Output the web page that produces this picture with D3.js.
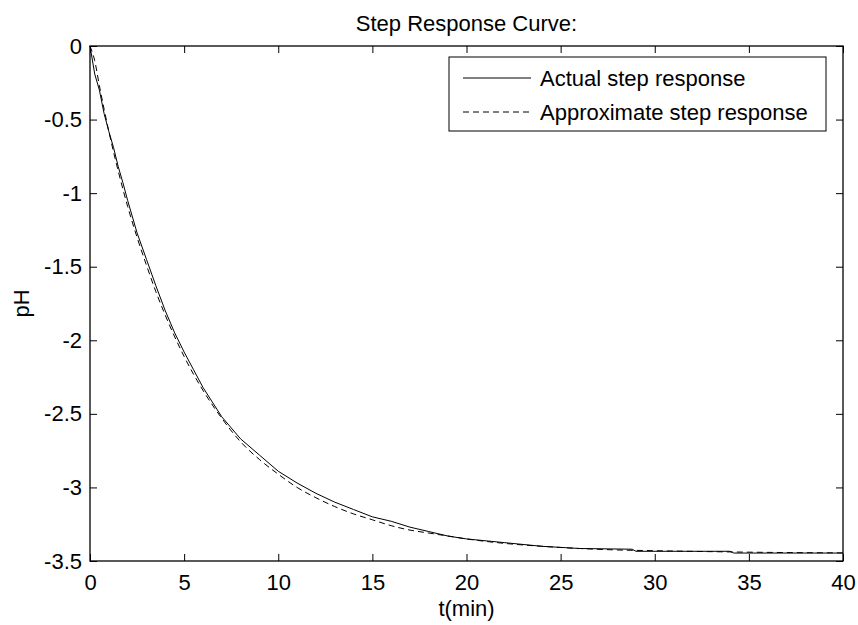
<!DOCTYPE html>
<html>
<head>
<meta charset="utf-8">
<script src="https://cdn.jsdelivr.net/npm/d3@7"></script>
<style>
  html, body { margin: 0; padding: 0; background: #fff; }
  svg { display: block; font-family: "Liberation Sans", Arial, sans-serif; }
</style>
</head>
<body>
<svg id="chart" width="858" height="625"></svg>
<script>
// Measured step response of pH (time in minutes)
const actualT = [0, 0.25, 0.5, 0.75, 1, 1.25, 1.5, 1.75, 2, 2.5, 3, 3.5, 4, 4.5, 5, 5.5, 6, 7, 8, 9, 10, 11, 12, 13, 14, 15, 16, 17, 18, 19, 20, 22, 24, 26, 28.8, 29.0, 34.0, 34.2, 40];
const actualPH = [0, -0.19, -0.30, -0.46, -0.58, -0.69, -0.82, -0.93, -1.05, -1.27, -1.45, -1.63, -1.80, -1.95, -2.08, -2.20, -2.32, -2.52, -2.67, -2.78, -2.89, -2.97, -3.04, -3.10, -3.15, -3.20, -3.23, -3.27, -3.30, -3.33, -3.35, -3.375, -3.40, -3.415, -3.42, -3.434, -3.434, -3.446, -3.446];

// Approximate (model) step response
const approxT = [0, 0.25, 0.5, 0.75, 1, 1.5, 2, 2.5, 3, 3.5, 4, 5, 6, 7, 8, 9, 10, 11, 12, 13, 14, 15, 16, 17, 18, 19, 20, 22, 24, 26, 28, 30, 35, 40];
const approxPH = [0, -0.10, -0.27, -0.43, -0.58, -0.85, -1.09, -1.30, -1.49, -1.67, -1.83, -2.11, -2.34, -2.53, -2.69, -2.81, -2.91, -3.00, -3.07, -3.13, -3.18, -3.22, -3.26, -3.29, -3.31, -3.33, -3.35, -3.38, -3.40, -3.415, -3.425, -3.43, -3.44, -3.445];

const xTicks = [0, 5, 10, 15, 20, 25, 30, 35, 40];
const yTicks = [0, -0.5, -1, -1.5, -2, -2.5, -3, -3.5];
const seriesNames = ["Actual step response", "Approximate step response"];

const margin = { left: 90, top: 46, right: 843, bottom: 561 };
const fontSize = 22;
const tickLen = 7;
const fmt = d => String(d);  // plain hyphen-minus labels

const svg = d3.select("#chart");
const x = d3.scaleLinear().domain([0, 40]).range([margin.left, margin.right]);
const y = d3.scaleLinear().domain([-3.5, 0]).range([margin.bottom, margin.top]);

// Axes with inward ticks on all four sides
const gx = svg.append("g").attr("transform", `translate(0,${margin.bottom})`)
  .call(d3.axisBottom(x).tickValues(xTicks).tickSizeInner(-tickLen).tickSizeOuter(0).tickFormat(fmt));
const gxTop = svg.append("g").attr("transform", `translate(0,${margin.top})`)
  .call(d3.axisTop(x).tickValues(xTicks).tickSizeInner(-tickLen).tickSizeOuter(0).tickFormat(""));
const gy = svg.append("g").attr("transform", `translate(${margin.left},0)`)
  .call(d3.axisLeft(y).tickValues(yTicks).tickSizeInner(-tickLen).tickSizeOuter(0).tickFormat(fmt));
const gyRight = svg.append("g").attr("transform", `translate(${margin.right},0)`)
  .call(d3.axisRight(y).tickValues(yTicks).tickSizeInner(-tickLen).tickSizeOuter(0).tickFormat(""));

[gx, gxTop, gy, gyRight].forEach(g => {
  g.select(".domain").remove();
  g.selectAll(".tick line").attr("stroke", "#000").attr("stroke-width", 1);
  g.selectAll(".tick text").attr("fill", "#000").style("font-size", fontSize + "px")
    .style("font-family", '"Liberation Sans", Arial, sans-serif');
});
gx.selectAll(".tick text").attr("y", 29).attr("dy", null);
gy.selectAll(".tick text").attr("x", -8);

// Frame
svg.append("rect")
  .attr("x", margin.left).attr("y", margin.top)
  .attr("width", margin.right - margin.left).attr("height", margin.bottom - margin.top)
  .attr("fill", "none").attr("stroke", "#000").attr("stroke-width", 1.3);

// Curves
const actual = actualT.map((t, i) => [t, actualPH[i]]);
const approx = approxT.map((t, i) => [t, approxPH[i]]);
const line = d3.line().x(d => x(d[0])).y(d => y(d[1]));
const smooth = d3.line().x(d => x(d[0])).y(d => y(d[1])).curve(d3.curveMonotoneX);

svg.append("path").datum(actual).attr("d", line)
  .attr("fill", "none").attr("stroke", "#000").attr("stroke-width", 1);
svg.append("path").datum(approx).attr("d", smooth)
  .attr("fill", "none").attr("stroke", "#000").attr("stroke-width", 1)
  .attr("stroke-dasharray", "6,4");

// Legend
const lg = svg.append("g");
lg.append("rect").attr("x", 449).attr("y", 57).attr("width", 377).attr("height", 74)
  .attr("fill", "#fff").attr("stroke", "#000").attr("stroke-width", 1);
const rows = [{ name: seriesNames[0], dash: null, cy: 78 }, { name: seriesNames[1], dash: "6,4", cy: 112 }];
rows.forEach(r => {
  lg.append("line").attr("x1", 463).attr("x2", 531).attr("y1", r.cy).attr("y2", r.cy)
    .attr("stroke", "#000").attr("stroke-width", 1).attr("stroke-dasharray", r.dash);
  lg.append("text").attr("x", 540).attr("y", r.cy).attr("dy", "0.35em")
    .style("font-size", fontSize + "px").attr("fill", "#000").text(r.name);
});

// Title and axis labels
svg.append("text").attr("x", (margin.left + margin.right) / 2).attr("y", 31)
  .attr("text-anchor", "middle").style("font-size", fontSize + "px").text("Step Response Curve:");
svg.append("text").attr("x", (margin.left + margin.right) / 2).attr("y", 616)
  .attr("text-anchor", "middle").style("font-size", fontSize + "px").text("t(min)");
svg.append("text").attr("transform", `translate(29,${(margin.top + margin.bottom) / 2}) rotate(-90)`)
  .attr("text-anchor", "middle").style("font-size", fontSize + "px").text("pH");
</script>
</body>
</html>
